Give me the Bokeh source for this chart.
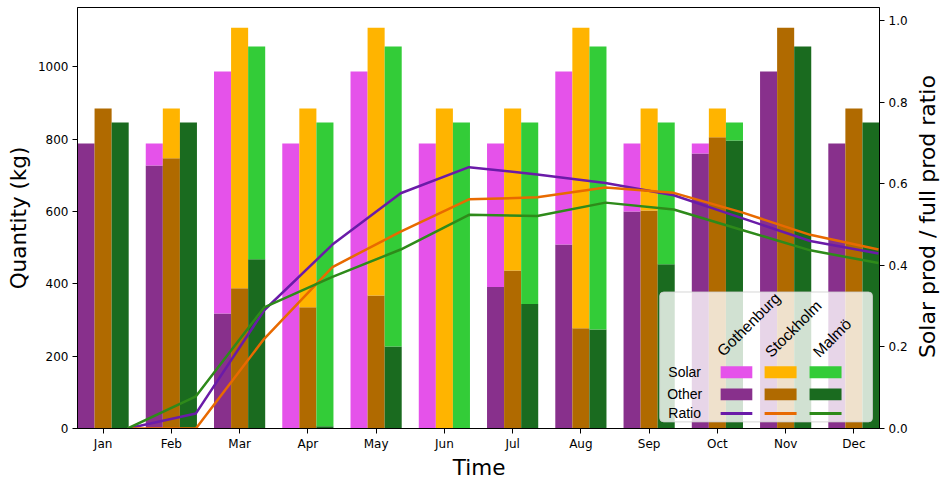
from bokeh.plotting import figure
from bokeh.layouts import row, column
from bokeh.models import Range1d, LinearAxis, FixedTicker, BoxAnnotation, Label, NumeralTickFormatter
from bokeh.embed import file_html
from bokeh.resources import INLINE

months = ["Jan", "Feb", "Mar", "Apr", "May", "Jun", "Jul", "Aug", "Sep", "Oct", "Nov", "Dec"]
cities = ["Gothenburg", "Stockholm", "Malmö"]

goth_total = [788, 788, 987, 788, 987, 788, 788, 987, 788, 788, 987, 788]
goth_other = [788, 727, 318, 0, 0, 0, 391, 509, 600, 760, 987, 788]
stock_total = [885, 885, 1108, 885, 1108, 885, 885, 1108, 885, 885, 1108, 885]
stock_other = [885, 747, 388, 335, 368, 0, 437, 277, 603, 805, 1108, 885]
malmo_total = [846, 846, 1056, 846, 1056, 846, 846, 1056, 846, 846, 1056, 846]
malmo_other = [846, 846, 468, 6, 227, 0, 344, 274, 454, 796, 1056, 846]

goth_ratio = [0.0, 0.037, 0.290, 0.451, 0.577, 0.641, 0.623, 0.602, 0.572, 0.516, 0.460, 0.429]
stock_ratio = [0.0, 0.0, 0.220, 0.396, 0.483, 0.562, 0.567, 0.591, 0.578, 0.530, 0.475, 0.439]
malmo_ratio = [0.0, 0.079, 0.297, 0.372, 0.439, 0.524, 0.521, 0.554, 0.537, 0.487, 0.437, 0.406]

left_ticks = [0, 200, 400, 600, 800, 1000]
right_ticks = [0.0, 0.2, 0.4, 0.6, 0.8, 1.0]

x_title = "Time"
y_title = "Quantity (kg)"
y2_title = "Solar prod / full prod ratio"

solar_colors = ["#e552ea", "#ffb400", "#33cc38"]
other_colors = ["#88308c", "#b06a00", "#1a6b1f"]
line_colors = ["#6a1ba8", "#e86a00", "#2e8a1a"]

totals = [goth_total, stock_total, malmo_total]
others = [goth_other, stock_other, malmo_other]
ratios = [goth_ratio, stock_ratio, malmo_ratio]

X_LO, X_HI = -0.375, 11.375
Y_HI = 1164.0
R_HI = 1.0326
BAR_W = 0.25
LINE_OFF = 0.36

MAIN_W, MAIN_H = 910, 455
SIDE_W = 940 - MAIN_W
BOT_H = 479 - MAIN_H

p = figure(width=MAIN_W, height=MAIN_H, output_backend="svg", toolbar_location=None,
           x_range=Range1d(X_LO, X_HI), y_range=Range1d(0, Y_HI), min_border=0,
           min_border_left=77, min_border_right=30, min_border_top=7, min_border_bottom=27)
p.extra_y_ranges = {"ratio": Range1d(0, R_HI)}
p.xgrid.grid_line_color = None
p.ygrid.grid_line_color = None
p.outline_line_color = "black"
p.outline_line_alpha = 1.0
p.background_fill_color = "white"

idx = list(range(len(months)))
for k in range(3):
    off = (k - 1) * BAR_W
    xs = [i + off for i in idx]
    p.vbar(x=xs, width=BAR_W, bottom=0, top=others[k], fill_color=other_colors[k], line_color=None)
    p.vbar(x=xs, width=BAR_W, bottom=others[k], top=totals[k], fill_color=solar_colors[k], line_color=None)

for k in range(3):
    xs = [i + LINE_OFF for i in idx]
    p.line(x=xs, y=ratios[k], y_range_name="ratio", line_color=line_colors[k], line_width=2.5)

def style_axis(ax):
    ax.major_tick_out = 5
    ax.major_tick_in = 0
    ax.minor_tick_line_color = None
    ax.major_label_text_font = "DejaVu Sans"
    ax.major_label_text_font_size = "12px"
    ax.major_label_text_color = "black"
    ax.major_label_standoff = 4
    ax.axis_label_text_font = "DejaVu Sans"
    ax.axis_label_text_font_size = "21.5px"
    ax.axis_label_text_font_style = "normal"
    ax.axis_label_text_color = "black"
    ax.axis_line_color = "black"
    ax.major_tick_line_color = "black"

xa = p.xaxis[0]
xa.ticker = FixedTicker(ticks=idx)
xa.major_label_overrides = {i: m for i, m in enumerate(months)}
style_axis(xa)
xa.major_label_standoff = 3

ya = p.yaxis[0]
ya.ticker = FixedTicker(ticks=left_ticks)
ya.axis_label = y_title
style_axis(ya)
ya.axis_label_standoff = 4

yr = LinearAxis(y_range_name="ratio", ticker=FixedTicker(ticks=right_ticks),
                formatter=NumeralTickFormatter(format="0.0"))
style_axis(yr)
p.add_layout(yr, "right")

# pixel (reference layout) -> data coordinates helpers for the legend
def px2x(px):
    return X_LO + (px - 77.3) / (880.0 - 77.3) * (X_HI - X_LO)

def py2y(py):
    return (428.3 - py) / (428.3 - 7.0) * Y_HI

p.add_layout(BoxAnnotation(left=px2x(660), right=px2x(873), top=py2y(291.7), bottom=py2y(421.7),
                           fill_color="white", fill_alpha=0.8, line_color="#cccccc", line_alpha=0.8,
                           line_width=1, border_radius=4))

sw_x = [(721, 752.7), (765, 797), (810, 842)]
for k in range(3):
    x0, x1 = sw_x[k]
    p.add_layout(BoxAnnotation(left=px2x(x0), right=px2x(x1), top=py2y(366), bottom=py2y(378),
                               fill_color=solar_colors[k], fill_alpha=1, line_color=None))
    p.add_layout(BoxAnnotation(left=px2x(x0), right=px2x(x1), top=py2y(388.3), bottom=py2y(400),
                               fill_color=other_colors[k], fill_alpha=1, line_color=None))
    p.add_layout(BoxAnnotation(left=px2x(x0), right=px2x(x1), top=py2y(411.8), bottom=py2y(414.8),
                               fill_color=line_colors[k], fill_alpha=1, line_color=None))

for txt, cy in [("Solar", 372), ("Other", 394), ("Ratio", 412.7)]:
    p.add_layout(Label(x=px2x(685), y=py2y(cy), text=txt, text_align="center", text_baseline="middle",
                       text_font="Liberation Sans", text_font_size="14px", text_color="black"))

head_pos = [(720, 353), (768, 354), (816, 354)]
for k in range(3):
    hx, hy = head_pos[k]
    p.add_layout(Label(x=px2x(hx), y=py2y(hy), text=cities[k], angle=45, angle_units="deg",
                       text_align="left", text_baseline="middle",
                       text_font="Liberation Sans", text_font_size="15.5px", text_color="black"))

def blank(w, h):
    f = figure(width=w, height=h, output_backend="svg", toolbar_location=None,
               x_range=Range1d(0, w), y_range=Range1d(0, h),
               x_axis_location=None, y_axis_location=None, min_border=0,
               min_border_left=0, min_border_right=0, min_border_top=0, min_border_bottom=0)
    f.xgrid.grid_line_color = None
    f.ygrid.grid_line_color = None
    f.outline_line_color = None
    f.background_fill_color = "white"
    f.border_fill_color = "white"
    return f

# right-hand title strip (text reads bottom to top)
pr = blank(SIDE_W, MAIN_H)
pr.add_layout(Label(x=927 - MAIN_W, y=MAIN_H - 226, text=y2_title, angle=90, angle_units="deg",
                    text_align="center", text_baseline="middle",
                    text_font="DejaVu Sans", text_font_size="22px", text_color="black"))

# bottom title strip
pb = blank(940, BOT_H)
pb.add_layout(Label(x=478.6, y=479 - 466.7, text=x_title, text_align="center", text_baseline="middle",
                    text_font="DejaVu Sans", text_font_size="21.5px", text_color="black"))

layout = column(row(p, pr, spacing=0), pb, spacing=0)
open("out.html", "w").write(file_html(layout, INLINE))
